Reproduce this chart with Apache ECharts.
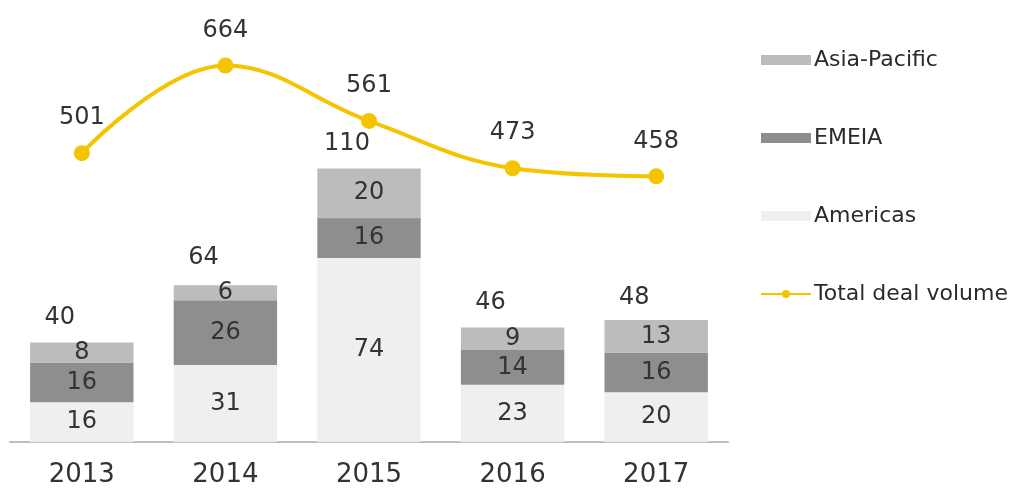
<!DOCTYPE html>
<html>
<head>
<meta charset="utf-8">
<script src="https://cdn.jsdelivr.net/npm/echarts@6/dist/echarts.min.js"></script>
<style>
  html, body { margin: 0; padding: 0; background: #fff; }
  #main { width: 1017px; height: 488px; }
</style>
</head>
<body>
<div id="main"></div>
<script>
var years = ['2013', '2014', '2015', '2016', '2017'];
var americas = [16, 31, 74, 23, 20];
var emeia = [16, 26, 16, 14, 16];
var asiaPacific = [8, 6, 20, 9, 13];
var totals = [40, 64, 110, 46, 48];
var dealVolume = [501, 664, 561, 473, 458];

var chart = echarts.init(document.getElementById('main'));
var font = 'DejaVu Sans';

var segLabel = {
  show: true,
  position: 'inside',
  color: '#333',
  fontFamily: font,
  fontSize: 24
};

var option = {
  backgroundColor: '#fff',
  animation: false,
  grid: { left: 10, right: 289, top: 44, bottom: 44, containLabel: false },
  legend: {
    orient: 'vertical',
    left: 755,
    top: 44,
    itemWidth: 50,
    itemHeight: 10,
    itemGap: 56,
    textStyle: { fontFamily: font, fontSize: 22, color: '#2b2b2b', padding: [0, 0, 0, -2] },
    data: [
      { name: 'Asia-Pacific', icon: 'rect' },
      { name: 'EMEIA', icon: 'rect' },
      { name: 'Americas', icon: 'rect' },
      'Total deal volume'
    ]
  },
  xAxis: {
    type: 'category',
    data: years,
    axisLine: { lineStyle: { color: '#bfbfbf', width: 2 } },
    axisTick: { show: false },
    axisLabel: { fontFamily: font, fontSize: 26, color: '#333', margin: 20 }
  },
  yAxis: [
    { type: 'value', min: 0, max: 160, show: false, splitLine: { show: false } },
    { type: 'value', min: -36, max: 704, show: false, splitLine: { show: false } }
  ],
  series: [
    {
      name: 'Americas', type: 'bar', stack: 'r', data: americas,
      barCategoryGap: '28%',
      itemStyle: { color: '#efefef' }, label: segLabel
    },
    {
      name: 'EMEIA', type: 'bar', stack: 'r', data: emeia,
      itemStyle: { color: '#8e8e8e' }, label: segLabel
    },
    {
      name: 'Asia-Pacific', type: 'bar', stack: 'r', data: asiaPacific,
      itemStyle: { color: '#bcbcbc' }, label: segLabel
    },
    {
      name: 'Total', type: 'bar', data: totals, barGap: '-100%', z: 1,
      itemStyle: { color: 'rgba(0,0,0,0)' },
      label: {
        show: true, position: 'top', distance: 13, offset: [-22, 0],
        color: '#333', fontFamily: font, fontSize: 24
      }
    },
    {
      name: 'Total deal volume', type: 'line', yAxisIndex: 1, data: dealVolume,
      smooth: 0.4,
      symbol: 'circle', symbolSize: 16,
      lineStyle: { color: '#f5c400', width: 4 },
      itemStyle: { color: '#f5c400' },
      label: {
        show: true, position: 'top', distance: 15,
        color: '#333', fontFamily: font, fontSize: 24
      },
      z: 5
    }
  ]
};

chart.setOption(option);
</script>
</body>
</html>
